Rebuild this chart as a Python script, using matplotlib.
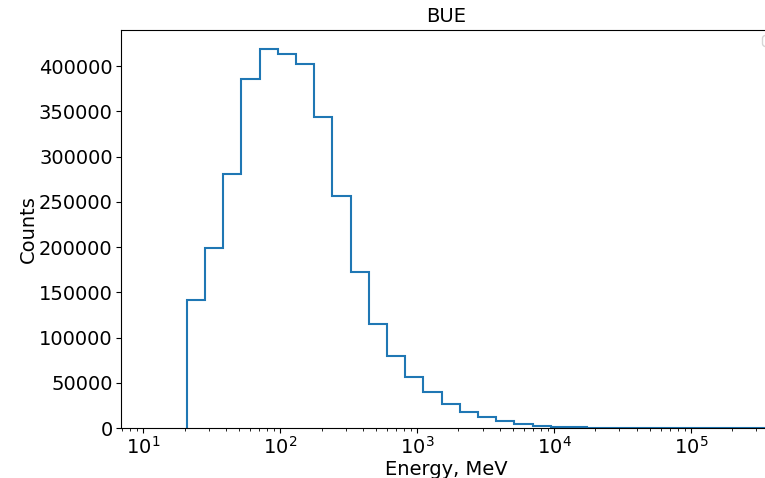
import numpy as np
import matplotlib.pyplot as plt

# Log-spaced energy bins (MeV) and counts
edges = np.logspace(1.316, 1.316 + 0.133 * 33, 34)
counts = [141400, 198600, 280700, 385600, 418800, 413300, 402500, 343300,
          256000, 172700, 115000, 79600, 56700, 40100, 26500, 17300,
          11800, 7700, 4750, 2540, 1440, 770, 450, 260, 150, 90,
          55, 30, 18, 10, 6, 3, 2]

fig = plt.figure(figsize=(7.65, 4.78), dpi=100)
ax = fig.add_axes([121 / 765, 50 / 478, 650 / 765, 398 / 478])

ax.hist(edges[:-1], bins=edges[:len(counts) + 1], weights=counts,
        histtype='step', linewidth=1.5)
ax.set_xscale('log')
ax.set_xlim(10 ** 0.8357, 10 ** 5.584)
ax.set_ylim(0, 440000)

ax.tick_params(labelsize=14, pad=2.5)
ax.set_xlabel("Energy, MeV", fontsize=14, labelpad=1.5)
ax.set_ylabel("Counts", fontsize=14, labelpad=0.5)
ax.set_title("BUE", fontsize=14)

# empty legend box, mostly off the right edge as in the original
fig.legend(handles=[], loc='upper left', borderaxespad=0,
           bbox_to_anchor=(762 / 765, (478 - 35) / 478))

fig.savefig("out.png", dpi=100)
